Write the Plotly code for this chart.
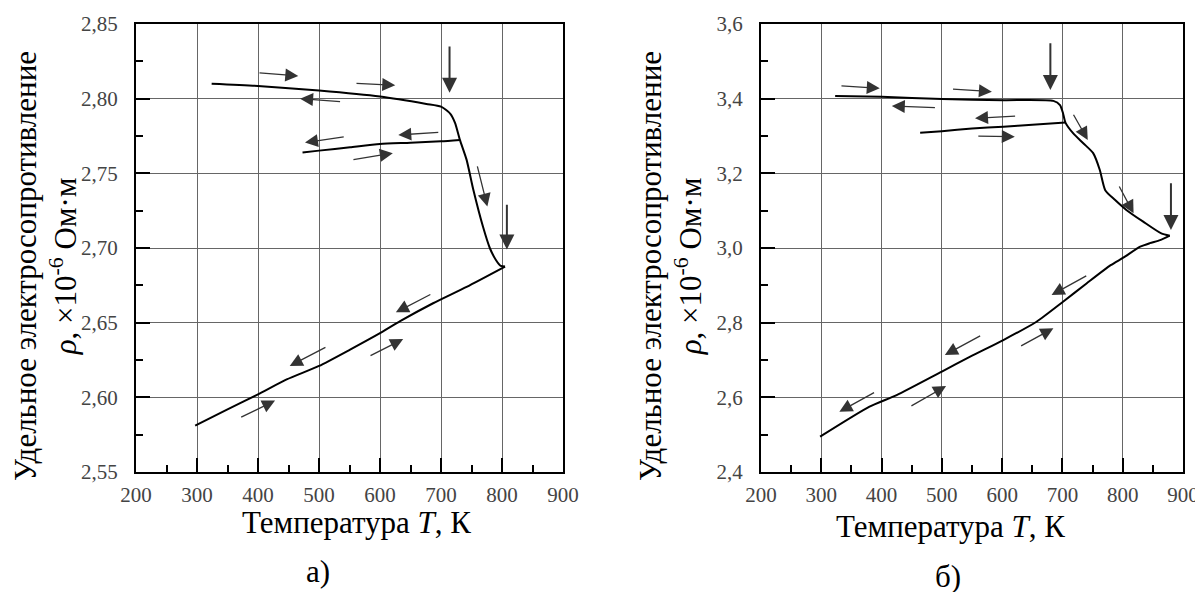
import plotly.graph_objects as go

# ---------- data: panel a) ----------
a_upper_T   = [324, 400, 500, 600, 676, 700, 715, 723, 731, 742, 753, 769, 780, 790, 798, 805]
a_upper_rho = [2.810, 2.8085, 2.8054, 2.8014, 2.7965, 2.7947, 2.790, 2.7838, 2.7724, 2.759, 2.739, 2.714, 2.700, 2.692, 2.688, 2.6876]
a_lower_T   = [805, 742, 687, 633, 600, 551, 500, 447, 400, 350, 297]
a_lower_rho = [2.6876, 2.674, 2.663, 2.651, 2.643, 2.632, 2.621, 2.612, 2.602, 2.592, 2.581]
a_mid_T     = [731, 700, 650, 600, 551, 500, 473]
a_mid_rho   = [2.7724, 2.7715, 2.7705, 2.7697, 2.7675, 2.7652, 2.764]

# arrows (tail -> head) panel a)
a_arr_tail_T   = [400, 559, 537, 698, 543, 554, 759, 685, 582, 513, 370]
a_arr_tail_rho = [2.8174, 2.8103, 2.798, 2.7775, 2.7746, 2.759, 2.7557, 2.6694, 2.6274, 2.634, 2.5862]
a_arr_head_T   = [466, 625, 469, 630, 477, 621, 776, 626, 638, 452, 428]
a_arr_head_rho = [2.8152, 2.809, 2.800, 2.7757, 2.7706, 2.7635, 2.7278, 2.6569, 2.639, 2.621, 2.5978]
a_big_T        = [714, 808]
a_big_tail_rho = [2.836, 2.730]
a_big_head_rho = [2.804, 2.699]

# ---------- data: panel б) ----------
b_upper_T   = [323, 400, 500, 602, 685, 696, 701, 705, 718, 735, 751, 762, 771, 787, 806, 834, 864, 878]
b_upper_rho = [3.407, 3.405, 3.399, 3.396, 3.394, 3.383, 3.361, 3.336, 3.307, 3.280, 3.254, 3.209, 3.155, 3.129, 3.102, 3.0705, 3.039, 3.033]
b_lower_T   = [878, 862, 845, 829, 801, 780, 740, 701, 657, 602, 547, 500, 425, 380, 298]
b_lower_rho = [3.033, 3.021, 3.013, 3.0035, 2.974, 2.954, 2.905, 2.856, 2.8025, 2.7535, 2.709, 2.669, 2.606, 2.575, 2.4945]
b_mid_T     = [705, 650, 602, 550, 500, 464]
b_mid_rho   = [3.336, 3.330, 3.325, 3.320, 3.313, 3.309]

b_arr_tail_T   = [331, 516, 491, 624, 558, 717, 793, 742, 629, 566, 447, 390]
b_arr_tail_rho = [3.4347, 3.4259, 3.3758, 3.3536, 3.300, 3.3608, 3.1687, 2.9276, 2.7356, 2.767, 2.5749, 2.615]
b_arr_head_T   = [397, 583, 417, 555, 621, 742, 818, 682, 685, 505, 507, 330]
b_arr_head_rho = [3.4277, 3.4187, 3.3804, 3.3474, 3.2981, 3.2893, 3.0929, 2.874, 2.7849, 2.7133, 2.6303, 2.5614]
b_big_T        = [680, 880]
b_big_tail_rho = [3.5526, 3.1776]
b_big_head_rho = [3.4232, 3.0482]

x_ticks = [200, 300, 400, 500, 600, 700, 800, 900]

SERIF = "Liberation Serif, Times New Roman, serif"
W, H = 1203, 592
OFF = 8  # page body margin

def px(x):
    return (x - OFF) / W

def py(y):
    return 1 - (y - OFF) / H

fig = go.Figure()
line = dict(color="black", width=2)
for T, r in [(a_upper_T, a_upper_rho), (a_lower_T, a_lower_rho), (a_mid_T, a_mid_rho)]:
    fig.add_trace(go.Scatter(x=T, y=r, mode="lines", line=line, xaxis="x", yaxis="y",
                             showlegend=False, hoverinfo="skip", line_shape="spline",
                             line_smoothing=0.6))
for T, r in [(b_upper_T, b_upper_rho), (b_lower_T, b_lower_rho), (b_mid_T, b_mid_rho)]:
    fig.add_trace(go.Scatter(x=T, y=r, mode="lines", line=line, xaxis="x2", yaxis="y2",
                             showlegend=False, hoverinfo="skip", line_shape="spline",
                             line_smoothing=0.6))

ann = []
def arrows(tT, tr, hT, hr, xr, yr, width, size):
    for a, b, c, d in zip(tT, tr, hT, hr):
        ann.append(dict(x=c, y=d, ax=a, ay=b, xref=xr, yref=yr, axref=xr, ayref=yr,
                        text="", showarrow=True, arrowhead=2, arrowsize=size,
                        arrowwidth=width, arrowcolor="#333"))

arrows(a_arr_tail_T, a_arr_tail_rho, a_arr_head_T, a_arr_head_rho, "x", "y", 1.3, 2.0)
arrows(a_big_T, a_big_tail_rho, a_big_T, a_big_head_rho, "x", "y", 2, 1.5)
arrows(b_arr_tail_T, b_arr_tail_rho, b_arr_head_T, b_arr_head_rho, "x2", "y2", 1.3, 2.0)
arrows(b_big_T, b_big_tail_rho, b_big_T, b_big_head_rho, "x2", "y2", 2, 1.5)

ytitle = "Удельное электросопротивление<br><i>ρ</i>, ×10<sup>-6</sup> Ом·м"
xtitle = "Температура <i>T</i>, К"
tfont = dict(family=SERIF, size=31, color="black")
for xc in [46, 671]:
    ann.append(dict(x=px(xc), y=py(266), xref="paper", yref="paper", text=ytitle,
                    textangle=-90, showarrow=False, font=tfont, xanchor="center",
                    yanchor="middle", align="center"))
for xc, yc in [(356, 522), (950, 526)]:
    ann.append(dict(x=px(xc), y=py(yc), xref="paper", yref="paper", text=xtitle,
                    showarrow=False, font=tfont, xanchor="center", yanchor="middle"))
for xc, yc, t in [(318, 571, "а)"), (948, 576, "б)")]:
    ann.append(dict(x=px(xc), y=py(yc), xref="paper", yref="paper", text=t,
                    showarrow=False, font=tfont, xanchor="center", yanchor="middle"))

tickfont = dict(family=SERIF, size=21, color="#444")

def xax(dom):
    return dict(domain=dom, range=[200, 900], tickvals=x_ticks, ticks="inside", ticklen=14,
                tickwidth=2, tickcolor="black", showline=True, linewidth=2, linecolor="black",
                mirror=True, showgrid=True, gridcolor="#666", gridwidth=1.2, zeroline=False,
                tickfont=tickfont, ticklabelstandoff=3, automargin=False,
                minor=dict(dtick=50, tick0=200, ticks="inside", ticklen=7, tickwidth=2,
                           tickcolor="black", showgrid=False))

def yax(rng, dt, fmt, anchor):
    return dict(domain=[py(472), py(24)], range=rng, dtick=dt, tick0=rng[0],
                tickformat=fmt, ticks="inside", ticklen=14, tickwidth=2, tickcolor="black",
                showline=True, linewidth=2, linecolor="black", mirror=True, showgrid=True,
                gridcolor="#666", gridwidth=1.2, zeroline=False, tickfont=tickfont,
                ticklabelstandoff=12, anchor=anchor, automargin=False,
                minor=dict(dtick=dt / 2, tick0=rng[0], ticks="inside", ticklen=7, tickwidth=2,
                           tickcolor="black", showgrid=False))

fig.update_layout(
    width=W, height=H, margin=dict(l=0, r=0, t=0, b=0, autoexpand=False),
    paper_bgcolor="white", plot_bgcolor="white", separators=", ",
    font=dict(family=SERIF, color="black"),
    xaxis=dict(xax([px(136), px(563)]), anchor="y"),
    yaxis=yax([2.55, 2.85], 0.05, ".2f", "x"),
    xaxis2=dict(xax([px(761), px(1183)]), anchor="y2"),
    yaxis2=yax([2.4, 3.6], 0.2, ".1f", "x2"),
    annotations=ann,
)

fig.write_html("out.html")
